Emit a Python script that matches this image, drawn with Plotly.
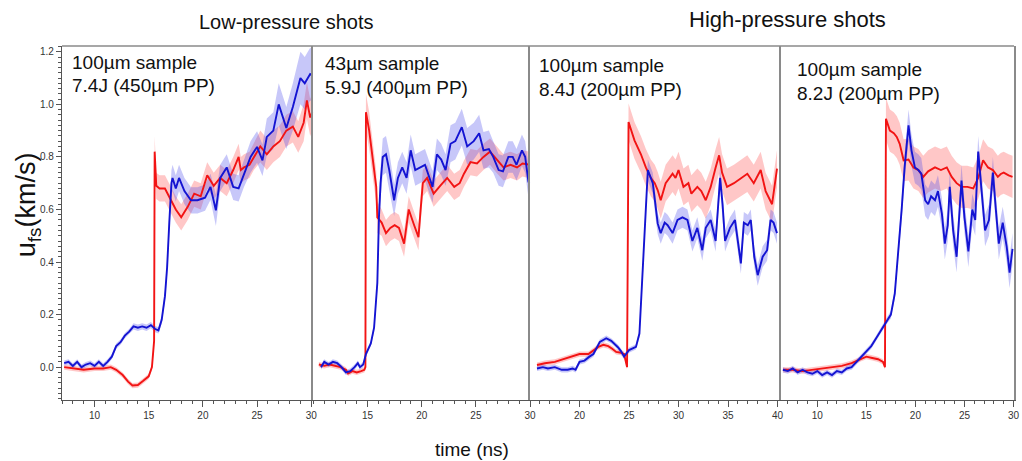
import plotly.graph_objects as go

# ---------------- data: (time ns, u_fs km/s, band half-width) ----------------
P1_RED = [(7.2,0.0,.01),(8.0,-0.005,.01),(9.0,-0.01,.01),(10.0,-0.005,.01),(10.8,-0.005,.01),
          (11.5,0.0,.01),(12.0,-0.01,.01),(12.6,-0.03,.01),(13.1,-0.055,.01),(13.5,-0.07,.01),
          (14.0,-0.068,.01),(14.5,-0.052,.01),(15.0,-0.035,.01),(15.3,0.0,.01),(15.5,0.1,.02),
          (15.55,0.82,.06),(15.7,0.69,.05),(16.0,0.68,.05),(16.5,0.68,.05),(17.0,0.64,.05),
          (17.5,0.60,.05),(18.0,0.57,.05),(18.6,0.61,.05),(19.2,0.66,.05),(19.8,0.65,.05),
          (20.4,0.73,.05),(21.0,0.69,.05),(21.6,0.72,.05),(22.2,0.70,.05),(22.8,0.75,.05),
          (23.3,0.80,.05),(23.5,0.75,.05),(23.8,0.76,.05),(24.3,0.77,.05),(24.7,0.80,.05),
          (25.3,0.84,.06),(25.9,0.81,.06),(26.5,0.84,.06),(27.1,0.86,.06),(27.7,0.90,.06),
          (28.3,0.915,.06),(28.8,0.876,.06),(29.3,0.93,.07),(29.6,1.015,.07),(29.9,0.95,.07),
          (30.1,0.97,.07)]
P1_BLUE = [(7.2,0.015,.01),(7.6,0.02,.01),(8.0,0.005,.01),(8.4,0.02,.01),(8.8,0.0,.01),
           (9.2,0.01,.01),(9.6,0.015,.01),(10.0,0.005,.01),(10.4,0.02,.01),(10.8,0.005,.01),
           (11.2,0.02,.01),(11.6,0.04,.01),(12.0,0.08,.01),(12.4,0.095,.01),(12.8,0.12,.01),
           (13.2,0.135,.01),(13.6,0.155,.012),(14.0,0.15,.012),(14.4,0.155,.012),(14.8,0.15,.012),
           (15.2,0.16,.012),(15.6,0.145,.012),(15.9,0.14,.012),(16.2,0.18,.015),(16.5,0.27,.02),
           (16.7,0.38,.03),(16.9,0.55,.04),(17.1,0.70,.05),(17.2,0.72,.05),(17.5,0.68,.05),
           (17.8,0.72,.05),(18.3,0.67,.05),(18.9,0.635,.05),(19.5,0.635,.05),(20.2,0.645,.05),
           (20.7,0.686,.05),(21.2,0.597,.06),(21.6,0.72,.05),(22.2,0.76,.05),(22.8,0.686,.05),
           (23.3,0.68,.05),(23.8,0.736,.05),(24.4,0.80,.06),(25.0,0.838,.06),(25.5,0.787,.06),
           (25.9,0.876,.07),(26.5,0.90,.07),(27.0,1.0,.08),(27.4,0.95,.08),(27.7,0.91,.08),
           (28.3,0.99,.09),(29.0,1.10,.10),(29.4,1.08,.10),(29.9,1.115,.10),(30.1,1.11,.10)]

P2_RED = [(10.5,0.01,.01),(11.0,0.005,.01),(11.5,0.01,.01),(12.0,0.005,.01),(12.5,0.0,.01),
          (13.0,-0.01,.01),(13.2,-0.024,.01),(13.6,-0.015,.01),(14.0,-0.02,.01),(14.4,-0.015,.01),
          (14.7,-0.01,.01),(14.8,0.0,.01),(14.85,0.97,.07),(15.15,0.90,.07),(15.5,0.775,.06),
          (15.8,0.686,.06),(15.9,0.57,.06),(16.3,0.55,.05),(16.7,0.51,.05),(17.1,0.53,.05),
          (17.5,0.54,.05),(17.9,0.53,.05),(18.37,0.47,.05),(18.8,0.60,.05),(19.3,0.54,.05),
          (19.7,0.495,.05),(19.9,0.60,.05),(20.1,0.70,.05),(20.5,0.72,.05),(21.1,0.66,.05),
          (21.7,0.69,.05),(22.35,0.72,.05),(23.0,0.686,.05),(23.5,0.70,.05),(23.9,0.736,.05),
          (24.5,0.78,.05),(25.1,0.775,.05),(25.7,0.80,.05),(26.3,0.82,.05),(26.9,0.79,.05),
          (27.55,0.76,.05),(28.2,0.77,.05),(28.8,0.76,.05),(29.3,0.775,.05),(29.85,0.77,.05),
          (30.0,0.77,.05)]
P2_BLUE = [(10.7,0.0,.01),(11.0,0.02,.01),(11.4,0.01,.01),(11.8,0.02,.01),(12.2,0.015,.01),
           (12.6,0.0,.01),(13.0,-0.02,.01),(13.4,-0.015,.01),(13.8,0.0,.01),(14.1,0.015,.01),
           (14.3,0.0,.01),(14.6,0.01,.01),(14.85,0.05,.01),(15.3,0.09,.01),(15.6,0.15,.015),
           (15.9,0.32,.03),(16.05,0.57,.05),(16.2,0.70,.06),(16.4,0.80,.07),(16.7,0.81,.07),
           (17.0,0.75,.07),(17.45,0.635,.06),(17.8,0.72,.06),(18.2,0.76,.06),(18.6,0.72,.06),
           (18.98,0.825,.06),(19.4,0.75,.06),(19.9,0.76,.06),(20.3,0.77,.06),(21.0,0.686,.06),
           (21.4,0.81,.06),(21.8,0.79,.06),(22.2,0.75,.06),(22.66,0.85,.07),(23.1,0.86,.07),
           (23.7,0.913,.07),(24.2,0.84,.07),(24.8,0.86,.07),(25.3,0.89,.07),(25.7,0.825,.07),
           (26.2,0.83,.07),(26.6,0.80,.06),(27.1,0.75,.06),(27.5,0.745,.06),(28.0,0.80,.06),
           (28.4,0.80,.06),(28.75,0.77,.06),(29.25,0.825,.06),(29.55,0.80,.06),(29.85,0.705,.06),
           (30.0,0.70,.06)]

P3_RED = [(15.7,0.008,.01),(16.5,0.015,.01),(17.5,0.02,.01),(18.3,0.03,.01),(19.2,0.04,.01),
          (20.0,0.05,.01),(20.9,0.05,.01),(21.4,0.065,.01),(21.9,0.077,.01),(22.4,0.085,.01),
          (22.9,0.08,.01),(23.3,0.07,.01),(23.7,0.058,.01),(24.2,0.055,.01),(24.5,0.05,.01),
          (24.8,0.0,.01),(24.95,0.933,.07),(25.55,0.863,.07),(26.2,0.81,.07),(26.7,0.76,.07),
          (27.2,0.72,.07),(27.6,0.70,.07),(27.9,0.673,.07),(28.2,0.635,.07),(28.7,0.70,.07),
          (29.4,0.736,.07),(29.7,0.72,.07),(30.0,0.75,.07),(30.5,0.686,.07),(31.0,0.70,.07),
          (31.3,0.66,.07),(31.9,0.686,.07),(32.3,0.67,.07),(32.75,0.635,.07),(33.25,0.686,.07),
          (33.75,0.76,.07),(34.1,0.806,.07),(34.4,0.74,.07),(34.9,0.686,.07),(35.6,0.70,.07),
          (36.3,0.72,.07),(36.95,0.736,.07),(37.6,0.70,.07),(38.3,0.75,.07),(38.8,0.67,.07),
          (39.45,0.62,.07),(39.95,0.755,.07)]
P3_BLUE = [(15.7,-0.005,.01),(16.3,0.0,.01),(16.8,-0.005,.01),(17.5,0.0,.01),(18.2,-0.01,.01),
           (18.8,-0.01,.01),(19.3,-0.005,.01),(19.6,-0.01,.01),(20.0,0.02,.01),(20.5,0.025,.01),
           (21.0,0.04,.01),(21.4,0.05,.01),(22.05,0.096,.01),(22.7,0.11,.01),(23.2,0.10,.01),
           (23.5,0.09,.01),(23.9,0.075,.01),(24.2,0.06,.01),(24.5,0.04,.01),(25.0,0.065,.01),
           (25.7,0.077,.01),(26.05,0.128,.015),(26.4,0.38,.03),(26.7,0.635,.04),(26.9,0.75,.04),
           (27.4,0.70,.04),(27.7,0.60,.04),(27.9,0.546,.04),(28.2,0.51,.04),(28.6,0.55,.04),
           (28.9,0.54,.04),(29.4,0.51,.04),(29.9,0.56,.04),(30.4,0.57,.04),(30.9,0.56,.04),
           (31.4,0.48,.04),(31.9,0.53,.04),(32.4,0.445,.04),(32.75,0.53,.04),(33.25,0.56,.04),
           (33.75,0.48,.04),(34.2,0.72,.04),(34.45,0.62,.04),(34.7,0.48,.04),(35.2,0.53,.04),
           (35.7,0.56,.04),(36.3,0.395,.04),(36.6,0.55,.04),(37.0,0.54,.04),(37.3,0.56,.04),
           (37.65,0.42,.04),(38.0,0.35,.04),(38.5,0.42,.04),(38.95,0.445,.04),(39.3,0.56,.04),
           (39.6,0.55,.04),(39.95,0.51,.04)]

P4_RED = [(6.5,-0.01,.01),(7.5,-0.01,.01),(8.5,-0.015,.01),(9.5,-0.01,.01),(10.5,-0.005,.01),
          (11.5,0.0,.01),(12.5,0.005,.01),(13.5,0.015,.01),(14.3,0.03,.01),(15.0,0.04,.01),
          (15.6,0.035,.01),(16.2,0.03,.01),(16.7,0.02,.01),(16.9,0.0,.01),(17.0,0.945,.08),
          (17.4,0.90,.08),(17.8,0.89,.08),(18.1,0.876,.08),(18.4,0.85,.08),(18.8,0.787,.08),
          (19.3,0.79,.08),(19.8,0.76,.08),(20.3,0.75,.08),(20.8,0.724,.08),(21.3,0.745,.08),
          (22.0,0.76,.08),(22.6,0.75,.08),(23.2,0.76,.08),(23.7,0.724,.08),(24.2,0.70,.08),
          (24.7,0.686,.08),(25.3,0.686,.08),(25.9,0.68,.08),(26.4,0.72,.08),(26.9,0.787,.08),
          (27.4,0.76,.08),(27.9,0.75,.08),(28.4,0.724,.08),(28.7,0.735,.08),(29.0,0.74,.08),
          (29.5,0.73,.08),(29.9,0.724,.08)]
P4_BLUE = [(6.5,-0.01,.01),(7.0,-0.015,.01),(7.5,-0.005,.01),(8.0,-0.02,.01),(8.5,-0.01,.01),
           (9.0,-0.02,.01),(9.5,-0.025,.01),(10.0,-0.015,.01),(10.5,-0.03,.01),(11.0,-0.02,.01),
           (11.5,-0.03,.01),(12.0,-0.015,.01),(12.5,-0.02,.01),(13.0,-0.005,.01),(13.5,0.0,.01),
           (14.0,0.02,.01),(14.5,0.04,.01),(15.0,0.06,.01),(15.5,0.08,.01),(16.0,0.11,.01),
           (16.5,0.14,.01),(17.0,0.17,.01),(17.5,0.20,.015),(17.9,0.28,.02),(18.3,0.45,.03),
           (18.6,0.60,.04),(18.9,0.76,.05),(19.3,0.92,.06),(19.6,0.825,.06),(19.95,0.76,.06),
           (20.3,0.75,.06),(20.6,0.736,.06),(21.0,0.635,.06),(21.3,0.62,.06),(21.6,0.65,.06),
           (22.0,0.635,.06),(22.3,0.67,.06),(22.7,0.584,.06),(23.0,0.47,.06),(23.3,0.54,.06),
           (23.5,0.686,.06),(23.85,0.52,.06),(24.2,0.42,.06),(24.7,0.71,.06),(25.0,0.57,.06),
           (25.4,0.44,.06),(25.8,0.60,.06),(26.1,0.56,.06),(26.4,0.82,.06),(26.7,0.70,.06),
           (27.1,0.52,.06),(27.5,0.56,.06),(27.9,0.74,.06),(28.2,0.60,.06),(28.5,0.47,.06),
           (28.9,0.55,.06),(29.3,0.46,.06),(29.6,0.36,.06),(29.9,0.45,.06)]

X_RANGES = [(7.0, 30.2), (10.0, 30.0), (15.0, 40.4), (6.35, 30.05)]
X_TICKS = [[10, 15, 20, 25, 30], [15, 20, 25, 30], [20, 25, 30, 35, 40], [10, 15, 20, 25, 30]]
Y_TICKS = [0.0, 0.2, 0.4, 0.6, 0.8, 1.0, 1.2]
LABELS = [("100µm sample", "7.4J (450µm PP)"), ("43µm sample", "5.9J (400µm PP)"),
          ("100µm sample", "8.4J (200µm PP)"), ("100µm sample", "8.2J (200µm PP)")]
GROUP_TITLES = ["Low-pressure shots", "High-pressure shots"]

# ---------------- layout geometry ----------------
W, H = 1022, 461
ML, MR, MT, MB = 62, 2, 46, 61
PW, PH = W - ML - MR, H - MT - MB
edges_px = [62, 315, 533, 786, 1020]
domains = [((edges_px[i] - ML) / PW, (edges_px[i + 1] - ML) / PW) for i in range(4)]

RED, BLUE = "#f21414", "#1414d2"
RED_BAND, BLUE_BAND = "rgba(255,70,70,0.30)", "rgba(70,70,235,0.30)"

fig = go.Figure()
series = [(P1_RED, P1_BLUE), (P2_RED, P2_BLUE), (P3_RED, P3_BLUE), (P4_RED, P4_BLUE)]
for i, (red, blue) in enumerate(series):
    xa = "x" if i == 0 else f"x{i+1}"
    ya = "y" if i == 0 else f"y{i+1}"
    for data, band in ((red, RED_BAND), (blue, BLUE_BAND)):
        t = [p[0] for p in data]
        hi = [p[1] + p[2] for p in data]
        lo = [p[1] - p[2] for p in data]
        fig.add_trace(go.Scatter(x=t + t[::-1], y=hi + lo[::-1], fill="toself", fillcolor=band,
                                 line=dict(width=0), mode="lines", hoverinfo="skip",
                                 showlegend=False, xaxis=xa, yaxis=ya))
    for data, col in ((red, RED), (blue, BLUE)):
        fig.add_trace(go.Scatter(x=[p[0] for p in data], y=[p[1] for p in data], mode="lines",
                                 line=dict(color=col, width=1.9), showlegend=False,
                                 xaxis=xa, yaxis=ya))

FONT = "Liberation Sans, Arial, sans-serif"
tickfont = dict(family=FONT, size=10, color="#333")
LINE_COL = "#8a8a8a"
layout = dict(width=W, height=H, margin=dict(l=ML, r=MR, t=MT, b=MB),
              paper_bgcolor="white", plot_bgcolor="white", showlegend=False)
for i in range(4):
    xk = "xaxis" if i == 0 else f"xaxis{i+1}"
    yk = "yaxis" if i == 0 else f"yaxis{i+1}"
    layout[xk] = dict(domain=list(domains[i]), range=list(X_RANGES[i]), anchor="y" if i == 0 else f"y{i+1}",
                      tickmode="array", tickvals=X_TICKS[i], ticks="outside", ticklen=6,
                      tickcolor="#555", tickwidth=1, showline=True, linecolor="#555", linewidth=1.3,
                      mirror=False, showgrid=False, zeroline=False, tickfont=tickfont,
                      minor=dict(dtick=1, tick0=0, ticks="outside", ticklen=3, tickcolor="#555"))
    yd = dict(domain=[0, 1], range=[-0.125, 1.222], anchor="x" if i == 0 else f"x{i+1}",
              showline=True, linecolor=LINE_COL if i else "#555", linewidth=1.7 if i else 1.3,
              mirror=(i == 3), showgrid=False, zeroline=False)
    if i == 0:
        yd.update(tickmode="array", tickvals=Y_TICKS, tickformat=".1f", ticks="outside", ticklen=5,
                  tickcolor="#555", tickfont=tickfont,
                  minor=dict(dtick=0.02, tick0=0, ticks="outside", ticklen=3, tickcolor="#555"))
    else:
        yd.update(showticklabels=False, ticks="")
    layout[yk] = yd
fig.update_layout(**layout)
# top border of the panel strip
fig.add_shape(type="line", xref="paper", yref="paper", x0=0, x1=1, y0=1, y1=1,
              line=dict(color=LINE_COL, width=1.3))

def px_x(px):
    return (px - ML) / PW

def px_y(py):
    return (H - MB - py) / PH

text_pos = [(70, 63, 86), (325, 64, 87), (540, 65, 89), (800, 69, 93)]
for (l1, l2), (x0, y1, y2) in zip(LABELS, text_pos):
    for txt, yy in ((l1, y1), (l2, y2)):
        fig.add_annotation(text=txt, xref="paper", yref="paper", x=px_x(x0), y=px_y(yy),
                           xanchor="left", yanchor="middle", showarrow=False,
                           font=dict(family=FONT, size=19, color="#111"))

for txt, cx, cy, fs in ((GROUP_TITLES[0], 288, 22, 20), (GROUP_TITLES[1], 792, 20, 22)):
    fig.add_annotation(text=txt, xref="paper", yref="paper", x=px_x(cx), y=px_y(cy),
                       xanchor="center", yanchor="middle", showarrow=False,
                       font=dict(family=FONT, size=fs, color="#111"))
fig.add_annotation(text="time (ns)", xref="paper", yref="paper", x=px_x(475), y=px_y(449),
                   xanchor="center", yanchor="middle", showarrow=False,
                   font=dict(family=FONT, size=19, color="#111"))
fig.add_annotation(text="u<sub>fs</sub>(km/s)", xref="paper", yref="paper", x=px_x(28), y=px_y(205),
                   xanchor="center", yanchor="middle", showarrow=False, textangle=-90,
                   font=dict(family=FONT, size=27, color="#111"))

fig.write_html("out.html")
